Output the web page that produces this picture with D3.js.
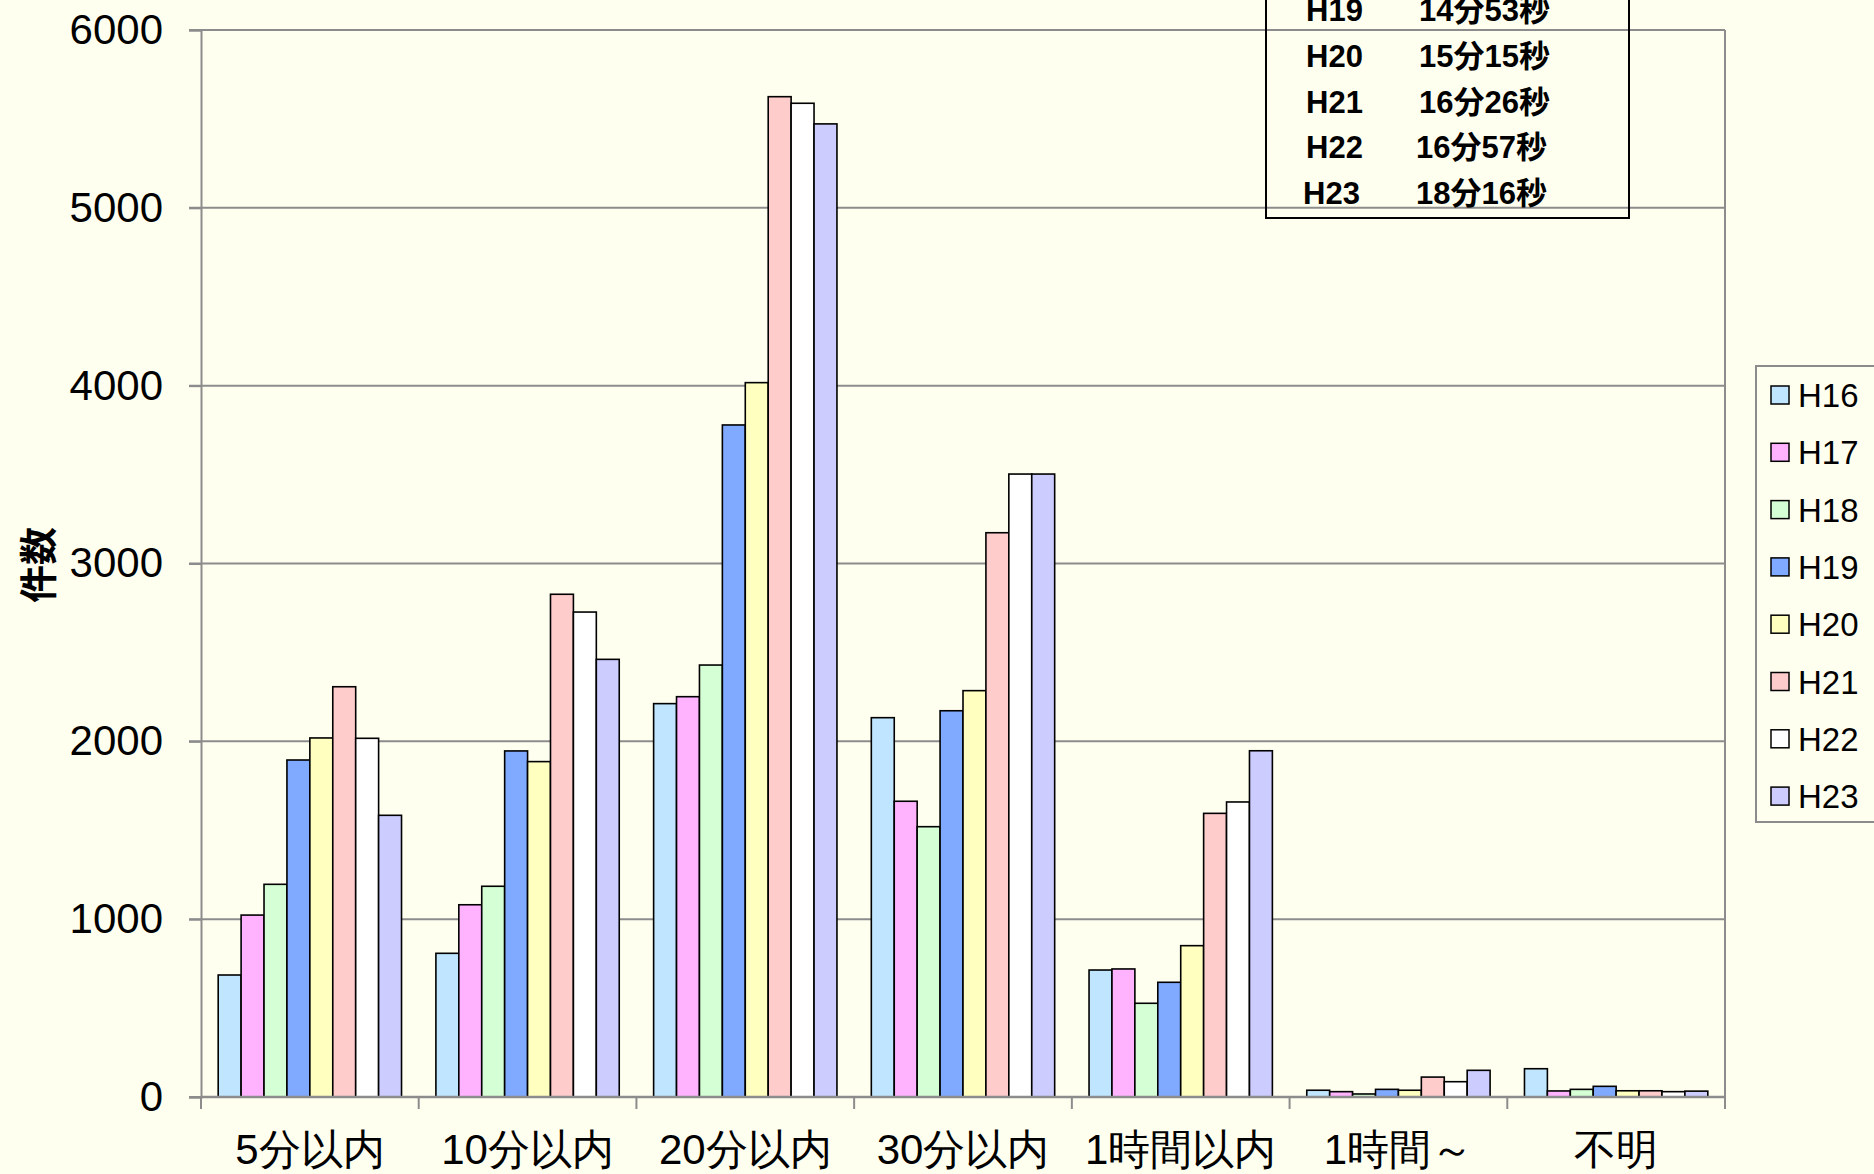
<!DOCTYPE html>
<html>
<head>
<meta charset="utf-8">
<script src="https://cdn.jsdelivr.net/npm/d3@7"></script>
<style>
  html, body { margin: 0; padding: 0; background: #FFFFF0; }
  svg { display: block; font-family: "Liberation Sans", Arial, "Noto Sans CJK JP", sans-serif; }
</style>
</head>
<body>
<svg id="chart" width="1874" height="1174"></svg>
<script>
'use strict';

// categories (arrival time) and fiscal years
var categories = ['5分以内', '10分以内', '20分以内', '30分以内', '1時間以内', '1時間～', '不明'];
var series = ['H16', 'H17', 'H18', 'H19', 'H20', 'H21', 'H22', 'H23'];

var h16 = [686, 808, 2212, 2133, 714, 38, 159];
var h17 = [1023, 1081, 2251, 1663, 720, 30, 34];
var h18 = [1196, 1185, 2429, 1520, 527, 17, 43];
var h19 = [1895, 1946, 3779, 2172, 645, 43, 60];
var h20 = [2019, 1886, 4017, 2285, 851, 38, 35];
var h21 = [2307, 2827, 5625, 3173, 1595, 112, 35];
var h22 = [2017, 2727, 5588, 3503, 1659, 86, 30];
var h23 = [1584, 2461, 5472, 3503, 1947, 150, 33];

var yTicks = [0, 1000, 2000, 3000, 4000, 5000, 6000];

// average time box (top rows are cut off in the original)
var avgYears = ['H19', 'H20', 'H21', 'H22', 'H23'];
var avgTimes = ['14分53秒', '15分15秒', '16分26秒', '16分57秒', '18分16秒'];

var colors = ['#C0E6FF', '#FFB3FF', '#D5FFD5', '#80AAFF', '#FFFFC0', '#FFCCCC', '#FFFFFF', '#CCCCFF'];

var table = [h16, h17, h18, h19, h20, h21, h22, h23];
var data = categories.map((c, i) => ({
  cat: c,
  vals: series.map((s, j) => ({ key: s, value: table[j][i] }))
}));

var plotLeft = 201, plotRight = 1725, plotTop = 30, plotBottom = 1097;
var svg = d3.select('#chart');

var x0 = d3.scaleBand().domain(categories).range([plotLeft, plotRight]);
var step = x0.step();
var bw = step / 9.5;
var x1 = d3.scaleBand().domain(series).range([0.75 * bw, 0.75 * bw + 8 * bw]);
var y = d3.scaleLinear().domain([0, 6000]).range([plotBottom, plotTop]);
var color = d3.scaleOrdinal().domain(series).range(colors);

// grid
svg.append('g')
  .selectAll('line')
  .data(yTicks)
  .enter().append('line')
  .attr('x1', plotLeft - 12)
  .attr('x2', plotRight)
  .attr('y1', d => y(d))
  .attr('y2', d => y(d))
  .attr('stroke', '#8C8C8C')
  .attr('stroke-width', 2);

// plot frame
svg.append('line')
  .attr('x1', plotRight).attr('x2', plotRight)
  .attr('y1', plotTop).attr('y2', plotBottom)
  .attr('stroke', '#8C8C8C').attr('stroke-width', 2);

// y axis labels
var yAxis = svg.append('g')
  .attr('transform', 'translate(' + plotLeft + ',0)')
  .call(d3.axisLeft(y).tickValues(yTicks).tickSize(12).tickPadding(26).tickFormat(d3.format('d')));
yAxis.select('.domain').attr('stroke', '#8C8C8C').attr('stroke-width', 2);
yAxis.selectAll('.tick line').attr('stroke', '#8C8C8C').attr('stroke-width', 2);
yAxis.selectAll('text')
  .attr('font-size', '42px')
  .attr('font-family', '"Liberation Sans", Arial, sans-serif')
  .attr('fill', '#000');

// bars
var groups = svg.append('g')
  .selectAll('g')
  .data(data)
  .enter().append('g')
  .attr('transform', d => 'translate(' + x0(d.cat) + ',0)');

groups.selectAll('rect')
  .data(d => d.vals)
  .enter().append('rect')
  .attr('x', d => x1(d.key))
  .attr('y', d => y(d.value))
  .attr('width', x1.bandwidth())
  .attr('height', d => plotBottom - y(d.value))
  .attr('fill', d => color(d.key))
  .attr('stroke', '#000')
  .attr('stroke-width', 1.6);

// x axis
var xAxis = svg.append('g')
  .attr('transform', 'translate(0,' + plotBottom + ')')
  .call(d3.axisBottom(x0).tickSize(0).tickPadding(37));
xAxis.select('.domain').remove();
xAxis.selectAll('text')
  .attr('font-size', '42px')
  .attr('fill', '#000');

svg.append('line')
  .attr('x1', plotLeft).attr('x2', plotRight)
  .attr('y1', plotBottom).attr('y2', plotBottom)
  .attr('stroke', '#8C8C8C').attr('stroke-width', 2.5);

svg.append('g')
  .selectAll('line')
  .data(d3.range(categories.length + 1))
  .enter().append('line')
  .attr('x1', i => plotLeft + i * step)
  .attr('x2', i => plotLeft + i * step)
  .attr('y1', plotBottom)
  .attr('y2', plotBottom + 12)
  .attr('stroke', '#8C8C8C')
  .attr('stroke-width', 2);

// y title
svg.append('text')
  .attr('transform', 'translate(52,565)rotate(-90)')
  .attr('text-anchor', 'middle')
  .attr('font-size', '38px')
  .attr('font-weight', 'bold')
  .attr('font-family', '"Noto Sans CJK JP", sans-serif')
  .text('件数');

// average time box
svg.append('rect')
  .attr('x', 1266)
  .attr('y', -20)
  .attr('width', 363)
  .attr('height', 238)
  .attr('fill', 'none')
  .attr('stroke', '#000')
  .attr('stroke-width', 2);

var rows = svg.append('g')
  .selectAll('g')
  .data(avgYears)
  .enter().append('g')
  .attr('transform', (d, i) => 'translate(0,' + (21 + i * 45.8) + ')');

rows.append('text')
  .attr('x', (d, i) => i === 4 ? 1303 : 1306)
  .attr('font-size', '31px')
  .attr('font-weight', 'bold')
  .text(d => d);

rows.append('text')
  .attr('x', (d, i) => i >= 3 ? 1416 : 1419)
  .attr('font-size', '31px')
  .attr('font-weight', 'bold')
  .text((d, i) => avgTimes[i]);

// legend
var legend = svg.append('g');
legend.append('rect')
  .attr('x', 1756)
  .attr('y', 366)
  .attr('width', 200)
  .attr('height', 456)
  .attr('fill', 'none')
  .attr('stroke', '#8C8C8C')
  .attr('stroke-width', 2);

var items = legend.selectAll('.item')
  .data(series)
  .enter().append('g')
  .attr('class', 'item')
  .attr('transform', (d, i) => 'translate(0,' + (395 + i * 57.3) + ')');

items.append('rect')
  .attr('x', 1771)
  .attr('y', -9)
  .attr('width', 18)
  .attr('height', 18)
  .attr('fill', d => color(d))
  .attr('stroke', '#000')
  .attr('stroke-width', 1.5);

items.append('text')
  .attr('x', 1798)
  .attr('y', 12)
  .attr('font-size', '33px')
  .text(d => d);
</script>
</body>
</html>
